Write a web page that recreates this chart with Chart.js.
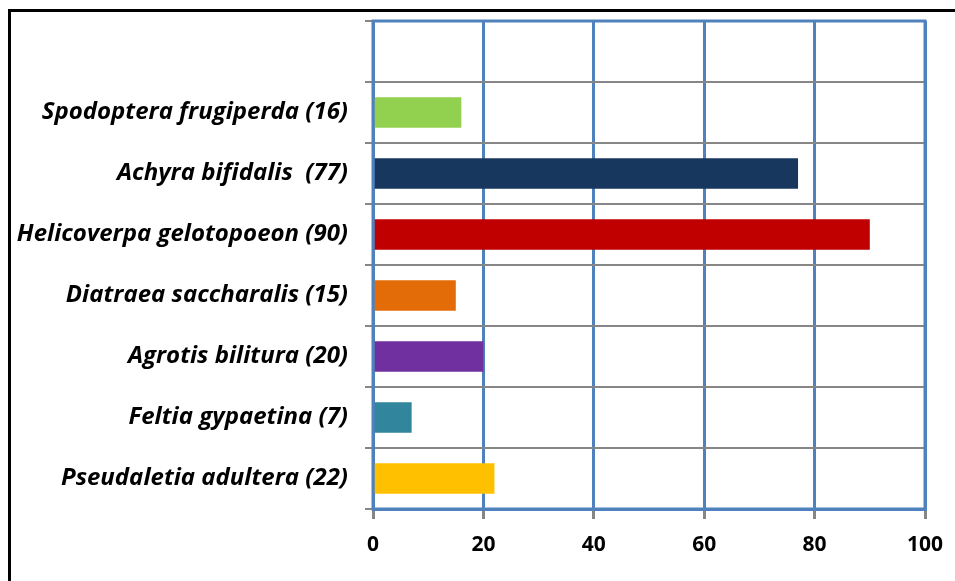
<!DOCTYPE html>
<html>
<head>
<meta charset="utf-8">
<script src="https://cdn.jsdelivr.net/npm/chart.js@4/dist/chart.umd.min.js"></script>
<style>
  html, body { margin: 0; padding: 0; background: #fff; }
  #wrap { position: relative; width: 955px; height: 581px; }
  #frame { position: absolute; left: 8px; top: 9px; width: 960px; height: 600px;
           border-top: 3px solid #000; border-left: 3px solid #000; pointer-events: none; }
</style>
</head>
<body>
<div id="wrap">
  <canvas id="mothChart" width="955" height="581"></canvas>
  <div id="frame"></div>
</div>
<script>
const categories = [
  '',
  'Spodoptera frugiperda (16)',
  'Achyra bifidalis  (77)',
  'Helicoverpa gelotopoeon (90)',
  'Diatraea saccharalis (15)',
  'Agrotis bilitura (20)',
  'Feltia gypaetina (7)',
  'Pseudaletia adultera (22)'
];
const counts = [null, 16, 77, 90, 15, 20, 7, 22];
const barColors = ['#ffffff', '#92D050', '#17375E', '#C00000', '#E36C09', '#7030A0', '#31859C', '#FFC000'];
const xTicks = [0, 20, 40, 60, 80, 100];

const blue = '#4F81BD';
const grey = '#868686';

// blue frame round the plot area
const plotBorder = {
  id: 'plotBorder',
  afterDraw(chart) {
    const a = chart.chartArea;
    const c = chart.ctx;
    c.save();
    c.strokeStyle = blue;
    c.lineWidth = 3;
    c.strokeRect(a.left, a.top, a.right - a.left, a.bottom - a.top);
    c.restore();
  }
};

document.addEventListener('DOMContentLoaded', function () {
  const ctx = document.getElementById('mothChart').getContext('2d');
  new Chart(ctx, {
    type: 'bar',
    data: {
      labels: categories,
      datasets: [{
        data: counts,
        backgroundColor: barColors,
        borderWidth: 0,
        barPercentage: 0.5,
        categoryPercentage: 1.0
      }]
    },
    options: {
      responsive: false,
      animation: false,
      indexAxis: 'y',
      layout: { padding: { top: 21, right: 30, left: 0, bottom: 0 } },
      plugins: {
        legend: { display: false },
        tooltip: { enabled: false }
      },
      scales: {
        x: {
          min: 0,
          max: 100,
          afterBuildTicks: axis => { axis.ticks = xTicks.map(v => ({ value: v })); },
          grid: { color: blue, lineWidth: 3, tickColor: grey, tickLength: 10, drawTicks: true },
          border: { color: blue, width: 3 },
          ticks: {
            padding: 13,
            color: '#000',
            font: { family: 'Open Sans', size: 21, weight: 'bold' }
          },
          afterFit: axis => {
            axis.height = 72;
            axis.paddingLeft = 0;
            axis.paddingRight = 0;
          }
        },
        y: {
          grid: { color: grey, lineWidth: 2, tickColor: grey, tickLength: 8, offset: true },
          border: { color: blue, width: 3 },
          ticks: {
            padding: 17,
            color: '#000',
            font: { family: 'Open Sans', size: 24, weight: 'bold', style: 'italic' }
          },
          afterFit: axis => {
            axis.width = 373;
            axis.paddingTop = 0;
            axis.paddingBottom = 0;
          }
        }
      }
    },
    plugins: [plotBorder]
  });
});
</script>
</body>
</html>
